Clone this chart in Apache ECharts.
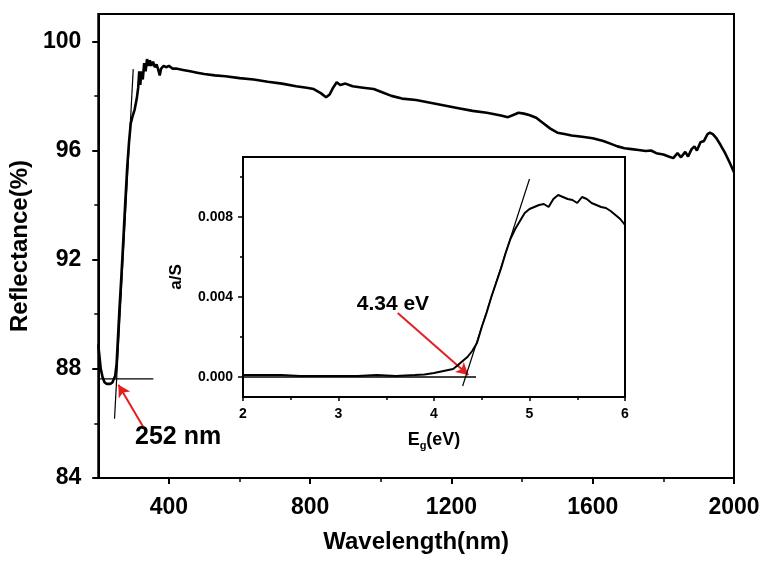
<!DOCTYPE html>
<html>
<head>
<meta charset="utf-8">
<script src="https://cdn.jsdelivr.net/npm/echarts@6/dist/echarts.min.js"></script>
<style>html,body{margin:0;padding:0;background:#fff;}#c{width:766px;height:561px;}</style>
</head>
<body>
<div id="c"></div>
<script>
// ---- main spectrum: wavelength (nm) vs reflectance (%)
const wavelength = [200,203,207,212,218,224,228,234,240,244,248,252,256,260,265,270,276,282,287,292,297,303,309,313,316,319,322,326,330,334,338,342,346,350,355,360,365,370,374,378,385,392,400,410,420,440,460,480,500,530,560,600,640,680,720,760,790,810,830,845,855,865,875,885,900,920,950,980,1000,1030,1060,1100,1140,1180,1220,1260,1300,1340,1360,1375,1390,1405,1420,1440,1460,1480,1500,1520,1540,1570,1600,1630,1650,1670,1690,1710,1730,1750,1765,1780,1800,1815,1828,1840,1850,1862,1870,1880,1888,1895,1905,1915,1925,1932,1940,1950,1962,1975,1988,2000];
const reflectance = [88.9,88.5,88.0,87.7,87.5,87.45,87.4,87.45,87.5,87.55,87.75,88.2,89.2,90.2,91.3,92.5,94.0,95.4,96.3,97.0,97.25,97.5,97.9,98.3,98.9,98.4,98.9,98.6,99.2,98.9,99.35,99.1,99.3,99.1,99.25,99.05,99.15,98.95,98.75,99.0,99.1,99.05,99.1,99.0,99.0,98.95,98.9,98.85,98.8,98.75,98.72,98.65,98.6,98.52,98.45,98.35,98.3,98.25,98.1,97.95,98.05,98.3,98.5,98.4,98.45,98.35,98.3,98.25,98.15,98.0,97.9,97.85,97.75,97.65,97.55,97.45,97.38,97.28,97.22,97.3,97.38,97.35,97.3,97.2,97.0,96.8,96.65,96.6,96.55,96.5,96.45,96.35,96.25,96.15,96.08,96.05,96.02,95.98,96.0,95.9,95.85,95.78,95.72,95.9,95.75,95.95,95.78,96.05,96.15,96.0,96.3,96.35,96.6,96.65,96.6,96.45,96.2,95.9,95.55,95.2];
const mainTangentX = [246, 299];
const mainTangentY = [86.17, 98.98];
const mainBaseX = [200, 356];
const mainBaseY = [87.63, 87.63];
const mainArrowX = [327, 257];
const mainArrowY = [85.88, 87.42];
const mainLabel = '252 nm';
const mainLabelPos = [426, 85.48];

// ---- inset: Eg (eV) vs a/S
const energy = [2.0,2.2,2.4,2.6,2.8,3.0,3.2,3.4,3.6,3.8,3.9,4.0,4.1,4.2,4.24,4.3,4.35,4.4,4.45,4.5,4.55,4.6,4.65,4.7,4.75,4.8,4.85,4.9,4.95,5.0,5.05,5.1,5.15,5.2,5.25,5.3,5.35,5.4,5.45,5.5,5.55,5.6,5.65,5.7,5.75,5.8,5.85,5.9,5.95,6.0];
const absorb = [0.0001,0.0001,0.0001,0.00005,0.00005,0.00005,0.00005,0.0001,0.00005,0.0001,0.00013,0.0002,0.0003,0.0004,0.00055,0.0008,0.001,0.0013,0.0017,0.0025,0.0032,0.0040,0.0047,0.0054,0.0062,0.0069,0.0074,0.0078,0.0082,0.0084,0.0085,0.0086,0.00865,0.0085,0.0089,0.0091,0.0090,0.0089,0.00885,0.0087,0.0090,0.0089,0.0087,0.0086,0.0085,0.00845,0.0083,0.0081,0.0079,0.0076];
const insetTangentX = [4.30, 5.0];
const insetTangentY = [-0.00045, 0.0099];
const insetBaseX = [2.0, 4.44];
const insetBaseY = [0, 0];
const insetArrowX = [3.62, 4.36];
const insetArrowY = [0.0032, 0.0001];
const insetLabel = '4.34 eV';
const insetLabelPos = [3.57, 0.00365];

// ---- ticks
const mainXMajor = [400, 800, 1200, 1600, 2000];
const mainXMinor = [600, 1000, 1400, 1800];
const mainYMajor = [84, 88, 92, 96, 100];
const mainYMinor = [86, 90, 94, 98];
const insetXMajor = [2, 3, 4, 5, 6];
const insetXMinor = [2.5, 3.5, 4.5, 5.5];
const insetYMajor = [0, 0.004, 0.008];
const insetYMinor = [0.002, 0.006, 0.010];

const FONT = 'Liberation Sans, Arial, sans-serif';
const RED = '#e3201f';
const zip = (a, b) => a.map((v, i) => [v, b[i]]);

function majorAxis(o) {
  return Object.assign({
    type: 'value', splitLine: {show: false},
    axisLine: {show: true, onZero: false, lineStyle: {color: '#000', width: 2}},
  }, o);
}
function minorAxis(o, vals, len) {
  return Object.assign({
    type: 'value', splitLine: {show: false}, offset: 0,
    axisLine: {show: false, onZero: false},
    axisLabel: {show: false},
    axisTick: {show: true, customValues: vals, length: len, inside: false, lineStyle: {color: '#000', width: 1.5}}
  }, o);
}

const chart = echarts.init(document.getElementById('c'));
chart.setOption({
  animation: false,
  backgroundColor: '#fff',
  grid: [
    {left: 98, top: 14, right: 32, bottom: 83, show: true, borderColor: '#000', borderWidth: 2, backgroundColor: '#fff'},
    {left: 243, top: 157, right: 141, bottom: 164, show: true, borderColor: '#000', borderWidth: 2, backgroundColor: '#fff', z: 3}
  ],
  xAxis: [
    majorAxis({gridIndex: 0, position: 'bottom', min: 200, max: 2000,
      axisTick: {show: true, customValues: mainXMajor, length: 6, lineStyle: {width: 2}},
      axisLabel: {customValues: mainXMajor, formatter: v => String(v), margin: 18, color: '#000', fontSize: 23, fontWeight: 'bold', fontFamily: FONT},
      name: 'Wavelength(nm)', nameLocation: 'middle', nameGap: 52,
      nameTextStyle: {color: '#000', fontSize: 24, fontWeight: 'bold', fontFamily: FONT}}),
    minorAxis({gridIndex: 0, position: 'bottom', min: 200, max: 2000}, mainXMinor, 4),
    majorAxis({gridIndex: 1, position: 'bottom', min: 2, max: 6, z: 4,
      axisTick: {show: true, customValues: insetXMajor, length: 4, lineStyle: {width: 1.5}},
      axisLabel: {customValues: insetXMajor, formatter: v => String(v), margin: 10, color: '#000', fontSize: 14, fontWeight: 'bold', fontFamily: FONT},
      name: '{e|E}{s|g}{e|(eV)}', nameLocation: 'middle', nameGap: 33,
      nameTextStyle: {rich: {
        e: {color: '#000', fontSize: 18, fontWeight: 'bold', fontFamily: FONT},
        s: {color: '#000', fontSize: 11, fontWeight: 'bold', fontFamily: FONT, padding: [10, 0, 0, 0]}
      }}}),
    minorAxis({gridIndex: 1, position: 'bottom', min: 2, max: 6, z: 4}, insetXMinor, 3)
  ],
  yAxis: [
    majorAxis({gridIndex: 0, position: 'left', min: 84, max: 101,
      axisTick: {show: true, customValues: mainYMajor, length: 6, lineStyle: {width: 2}},
      axisLabel: {customValues: mainYMajor, formatter: v => String(v), margin: 17, color: '#000', fontSize: 23, fontWeight: 'bold', fontFamily: FONT},
      name: 'Reflectance(%)', nameLocation: 'middle', nameGap: 61,
      nameTextStyle: {color: '#000', fontSize: 24, fontWeight: 'bold', fontFamily: FONT}}),
    minorAxis({gridIndex: 0, position: 'left', min: 84, max: 101}, mainYMinor, 4),
    majorAxis({gridIndex: 1, position: 'left', min: -0.001, max: 0.011, z: 4,
      axisTick: {show: true, customValues: insetYMajor, length: 5, lineStyle: {width: 1.5}},
      axisLabel: {customValues: insetYMajor, margin: 10, color: '#000', fontSize: 14, fontWeight: 'bold', fontFamily: FONT,
        formatter: v => v.toFixed(3)},
      name: 'a/S', nameLocation: 'middle', nameGap: 58,
      nameTextStyle: {color: '#000', fontSize: 17, fontWeight: 'bold', fontFamily: FONT}}),
    minorAxis({gridIndex: 1, position: 'left', min: -0.001, max: 0.011, z: 4}, insetYMinor, 3)
  ],
  series: [
    {type: 'line', xAxisIndex: 0, yAxisIndex: 0, data: zip(wavelength, reflectance), showSymbol: false,
      lineStyle: {color: '#000', width: 2.6}, z: 2},
    {type: 'line', xAxisIndex: 0, yAxisIndex: 0, data: zip(mainTangentX, mainTangentY), showSymbol: false,
      lineStyle: {color: '#000', width: 1.2}, z: 2},
    {type: 'line', xAxisIndex: 0, yAxisIndex: 0, data: zip(mainBaseX, mainBaseY), showSymbol: false,
      lineStyle: {color: '#000', width: 1.4}, z: 2,
      markLine: {silent: true, symbol: ['none', 'arrow'], symbolSize: [10, 12], label: {show: false},
        lineStyle: {color: RED, width: 2, type: 'solid'},
        data: [[{coord: [mainArrowX[0], mainArrowY[0]]}, {coord: [mainArrowX[1], mainArrowY[1]]}]]},
      markPoint: {silent: true, symbol: 'circle', symbolSize: 0,
        label: {show: true, position: 'inside', formatter: mainLabel, color: '#000', fontSize: 25, fontWeight: 'bold', fontFamily: FONT},
        data: [{coord: mainLabelPos}]}},
    {type: 'line', xAxisIndex: 2, yAxisIndex: 2, data: zip(energy, absorb), showSymbol: false,
      lineStyle: {color: '#000', width: 2}, z: 5},
    {type: 'line', xAxisIndex: 2, yAxisIndex: 2, data: zip(insetTangentX, insetTangentY), showSymbol: false,
      lineStyle: {color: '#000', width: 1.2}, z: 5},
    {type: 'line', xAxisIndex: 2, yAxisIndex: 2, data: zip(insetBaseX, insetBaseY), showSymbol: false,
      lineStyle: {color: '#000', width: 1.4}, z: 5,
      markLine: {silent: true, symbol: ['none', 'arrow'], symbolSize: [10, 12], label: {show: false},
        lineStyle: {color: RED, width: 2, type: 'solid'},
        data: [[{coord: [insetArrowX[0], insetArrowY[0]]}, {coord: [insetArrowX[1], insetArrowY[1]]}]]},
      markPoint: {silent: true, symbol: 'circle', symbolSize: 0,
        label: {show: true, position: 'inside', formatter: insetLabel, color: '#000', fontSize: 21, fontWeight: 'bold', fontFamily: FONT},
        data: [{coord: insetLabelPos}]}}
  ]
});
</script>
</body>
</html>
